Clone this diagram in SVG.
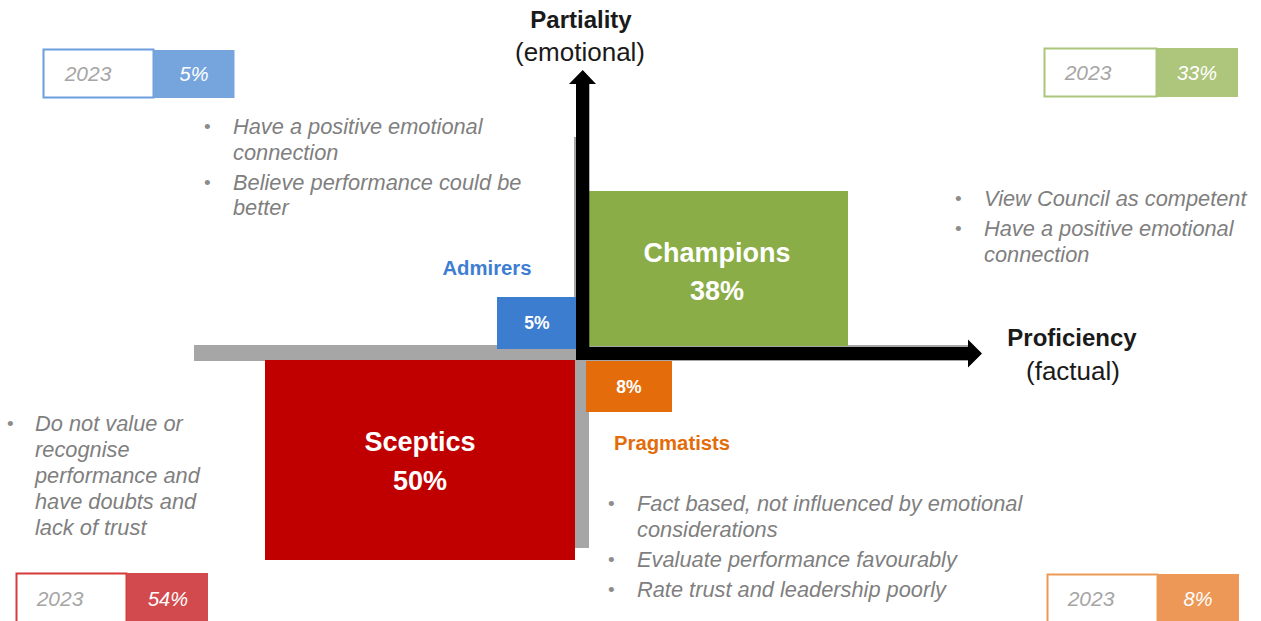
<svg xmlns="http://www.w3.org/2000/svg" width="1261" height="621" viewBox="0 0 1261 621">
<style>
text{font-family:"Liberation Sans",Arial,sans-serif}
.b{font-style:italic;font-size:21.8px;fill:#7f7f7f}
.dot{font-size:19px;fill:#8c8c8c}
.yr{font-style:italic;font-size:21px;fill:#a6a6a6}
.pc{font-style:italic;font-size:20px;fill:#fff}
.big{font-weight:bold;font-size:27px;fill:#fff}
.sm{font-weight:bold;font-size:17.5px;fill:#fff}
.ax{font-size:26px;fill:#1a1a1a}
.axb{font-weight:bold;font-size:24px;fill:#1a1a1a}
.lbl{font-weight:bold;font-size:20.3px}
</style>
<rect width="1261" height="621" fill="#fff"/>
<g id="axes-grey">
<rect x="574" y="137" width="15" height="411" fill="#a6a6a6"/>
<rect x="194" y="345" width="774" height="16" fill="#a6a6a6"/>
</g>
<g id="champions">
<rect x="586" y="191" width="262" height="155" fill="#8bad48"/>
<text class="big" x="717" y="262" text-anchor="middle">Champions</text>
<text class="big" x="717" y="300" text-anchor="middle">38%</text>
</g>
<g id="admirers">
<rect x="497" y="297" width="79" height="52" fill="#3c7dd0"/>
<text class="sm" x="537" y="329" text-anchor="middle">5%</text>
<text class="lbl" x="487" y="275" text-anchor="middle" fill="#3d7ed3">Admirers</text>
</g>
<g id="sceptics">
<rect x="265" y="360" width="310" height="200" fill="#c00000"/>
<text class="big" x="420" y="451" text-anchor="middle">Sceptics</text>
<text class="big" x="420" y="490" text-anchor="middle">50%</text>
</g>
<g id="pragmatists">
<rect x="586" y="361" width="86" height="51" fill="#e46c0b"/>
<text class="sm" x="629" y="393" text-anchor="middle">8%</text>
<text class="lbl" x="614" y="450" fill="#e36c0a">Pragmatists</text>
</g>
<g id="connectors">
<path d="M576,360 V84 H569 L582.7,70 L596,84 H589.3 V347 H968 V339.5 L982,353.5 L968,367.5 V360 Z" fill="#000"/>
</g>
<g id="axis-labels">
<text class="axb" x="581" y="28" text-anchor="middle">Partiality</text>
<text class="ax" x="580" y="61" text-anchor="middle">(emotional)</text>
<text class="axb" x="1072" y="346" text-anchor="middle">Proficiency</text>
<text class="ax" x="1073" y="380" text-anchor="middle">(factual)</text>
</g>
<g id="key-admirers">
<rect x="43.5" y="49.5" width="110" height="48" fill="#fff" stroke="#6c9edf" stroke-width="2"/>
<rect x="153.5" y="50" width="81" height="48" fill="#76a5de"/>
<text class="yr" x="88" y="81" text-anchor="middle">2023</text>
<text class="pc" x="194" y="81" text-anchor="middle">5%</text>
</g>
<g id="key-champions">
<rect x="1044.5" y="48.5" width="112" height="48" fill="#fff" stroke="#a9c67a" stroke-width="2"/>
<rect x="1156.5" y="48" width="81.5" height="49" fill="#aec67c"/>
<text class="yr" x="1088" y="80" text-anchor="middle">2023</text>
<text class="pc" x="1197" y="80" text-anchor="middle">33%</text>
</g>
<g id="key-sceptics">
<rect x="16.5" y="573.5" width="110" height="52" fill="#fff" stroke="#d63a3a" stroke-width="2"/>
<rect x="127" y="573" width="81" height="50" fill="#d24a4d"/>
<text class="yr" x="60" y="606" text-anchor="middle">2023</text>
<text class="pc" x="168" y="606" text-anchor="middle">54%</text>
</g>
<g id="key-pragmatists">
<rect x="1047.5" y="574.5" width="110" height="52" fill="#fff" stroke="#ee9a57" stroke-width="2"/>
<rect x="1158" y="574" width="81" height="50" fill="#ee9857"/>
<text class="yr" x="1091" y="606" text-anchor="middle">2023</text>
<text class="pc" x="1198" y="606" text-anchor="middle">8%</text>
</g>
<g id="notes-admirers">
<text class="dot" x="204" y="133">•</text>
<text class="b" x="233" y="134">Have a positive emotional</text>
<text class="b" x="233" y="160">connection</text>
<text class="dot" x="204" y="189">•</text>
<text class="b" x="233" y="190">Believe performance could be</text>
<text class="b" x="233" y="215">better</text>
</g>
<g id="notes-champions">
<text class="dot" x="955" y="205">•</text>
<text class="b" x="984" y="206">View Council as competent</text>
<text class="dot" x="955" y="235">•</text>
<text class="b" x="984" y="236">Have a positive emotional</text>
<text class="b" x="984" y="262">connection</text>
</g>
<g id="notes-sceptics">
<text class="dot" x="7" y="430">•</text>
<text class="b" x="35" y="431">Do not value or</text>
<text class="b" x="35" y="457">recognise</text>
<text class="b" x="35" y="483">performance and</text>
<text class="b" x="35" y="509">have doubts and</text>
<text class="b" x="35" y="535">lack of trust</text>
</g>
<g id="notes-pragmatists">
<text class="dot" x="608" y="510">•</text>
<text class="b" x="637" y="511">Fact based, not influenced by emotional</text>
<text class="b" x="637" y="537">considerations</text>
<text class="dot" x="608" y="566">•</text>
<text class="b" x="637" y="567">Evaluate performance favourably</text>
<text class="dot" x="608" y="596">•</text>
<text class="b" x="637" y="597">Rate trust and leadership poorly</text>
</g>
</svg>
